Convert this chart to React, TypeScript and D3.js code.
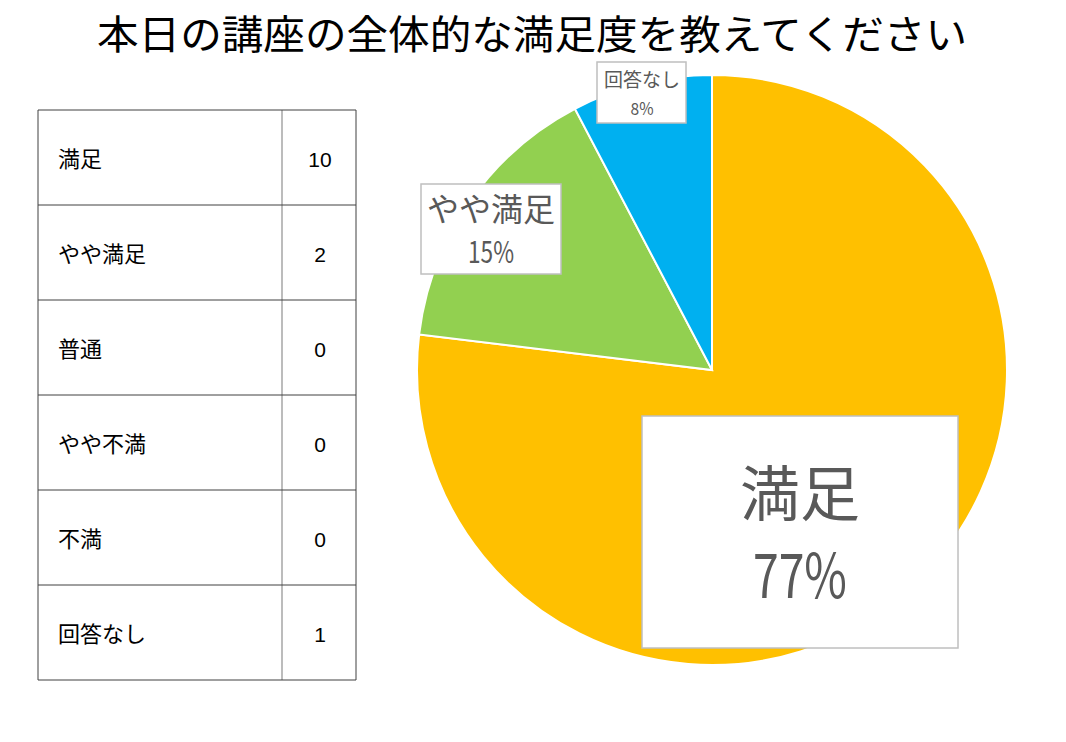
import React from "react";
import * as d3 from "d3";

const title = "本日の講座の全体的な満足度を教えてください";
const categories = ["満足", "やや満足", "普通", "やや不満", "不満", "回答なし"];
const counts = [10, 2, 0, 0, 0, 1];
const colors = ["#FFC000", "#92D050", "#A5A5A5", "#4472C4", "#ED7D31", "#00B0F0"];

type LabelSpec = { cx: number; box: [number, number, number, number]; nameSize: number; nameY: number; pctSize: number; pctY: number; pctW: number };
const labelLayout: Record<string, LabelSpec> = {
  "満足": { cx: 800, box: [642, 416, 316, 232], nameSize: 60, nameY: 516, pctSize: 62, pctY: 598, pctW: 94 },
  "やや満足": { cx: 491, box: [421, 184, 140, 90], nameSize: 32, nameY: 221, pctSize: 30, pctY: 263, pctW: 46 },
  "回答なし": { cx: 642, box: [597, 62, 89, 61], nameSize: 19, nameY: 87, pctSize: 17, pctY: 115, pctW: 23 },
};

export default function App() {
  const W = 1066, H = 742;
  const cx = 712, cy = 370, r = 295;
  const total = d3.sum(counts);
  const data = categories.map((c, i) => ({ c, v: counts[i], color: colors[i] }));
  const pie = d3.pie<{ c: string; v: number; color: string }>().sort(null).value(d => d.v);
  const arcs = pie(data).filter(a => a.data.v > 0);
  const arc = d3.arc<d3.PieArcDatum<{ c: string; v: number; color: string }>>().innerRadius(0).outerRadius(r);

  const tblX = 38, tblW = 318, divX = 282, tblY = 110, rowH = 95;
  const font = "'Noto Sans CJK JP', 'Noto Sans', sans-serif";

  return (
    <svg width={W} height={H} style={{ position: "absolute", left: 0, top: 0, background: "#fff" }} fontFamily={font}>
      <rect x={0} y={0} width={W} height={H} fill="#fff" />
      <text x={532} y={49} textAnchor="middle" fontSize={40} fill="#000" textLength={870} lengthAdjust="spacingAndGlyphs">{title}</text>

      {/* table */}
      <g>
        {categories.map((c, i) => (
          <g key={c}>
            <text x={58} y={tblY + i * rowH + rowH / 2 + 9} fontSize={22} fill="#000">{c}</text>
            <text x={320} y={tblY + i * rowH + rowH / 2 + 9} fontSize={21} fill="#000" textAnchor="middle" fontFamily="'Liberation Sans', Arial, sans-serif">{counts[i]}</text>
          </g>
        ))}
        <line x1={divX} x2={divX} y1={tblY} y2={tblY + rowH * categories.length} stroke="#a6a6a6" strokeWidth={1.5} />
        {d3.range(categories.length + 1).map(i => (
          <line key={i} x1={tblX} x2={tblX + tblW} y1={tblY + i * rowH} y2={tblY + i * rowH} stroke="#404040" strokeWidth={1} />
        ))}
        <line x1={tblX} x2={tblX} y1={tblY} y2={tblY + rowH * categories.length} stroke="#404040" strokeWidth={1} />
        <line x1={tblX + tblW} x2={tblX + tblW} y1={tblY} y2={tblY + rowH * categories.length} stroke="#404040" strokeWidth={1} />
      </g>

      {/* pie */}
      <g transform={`translate(${cx},${cy})`}>
        {arcs.map(a => (
          <path key={a.data.c} d={arc(a) || ""} fill={a.data.color} stroke="#fff" strokeWidth={2} />
        ))}
      </g>

      {/* labels */}
      {arcs.map(a => {
        const L = labelLayout[a.data.c];
        if (!L) return null;
        const pct = Math.round((a.data.v / total) * 100) + "%";
        return (
          <g key={a.data.c}>
            <rect x={L.box[0]} y={L.box[1]} width={L.box[2]} height={L.box[3]} fill="#fff" stroke="#bfbfbf" strokeWidth={1.5} />
            <text x={L.cx} y={L.nameY} textAnchor="middle" fontSize={L.nameSize} fill="#595959">{a.data.c}</text>
            <text x={L.cx} y={L.pctY} textAnchor="middle" fontSize={L.pctSize} fill="#595959" textLength={L.pctW} lengthAdjust="spacingAndGlyphs">{pct}</text>
          </g>
        );
      })}
    </svg>
  );
}
